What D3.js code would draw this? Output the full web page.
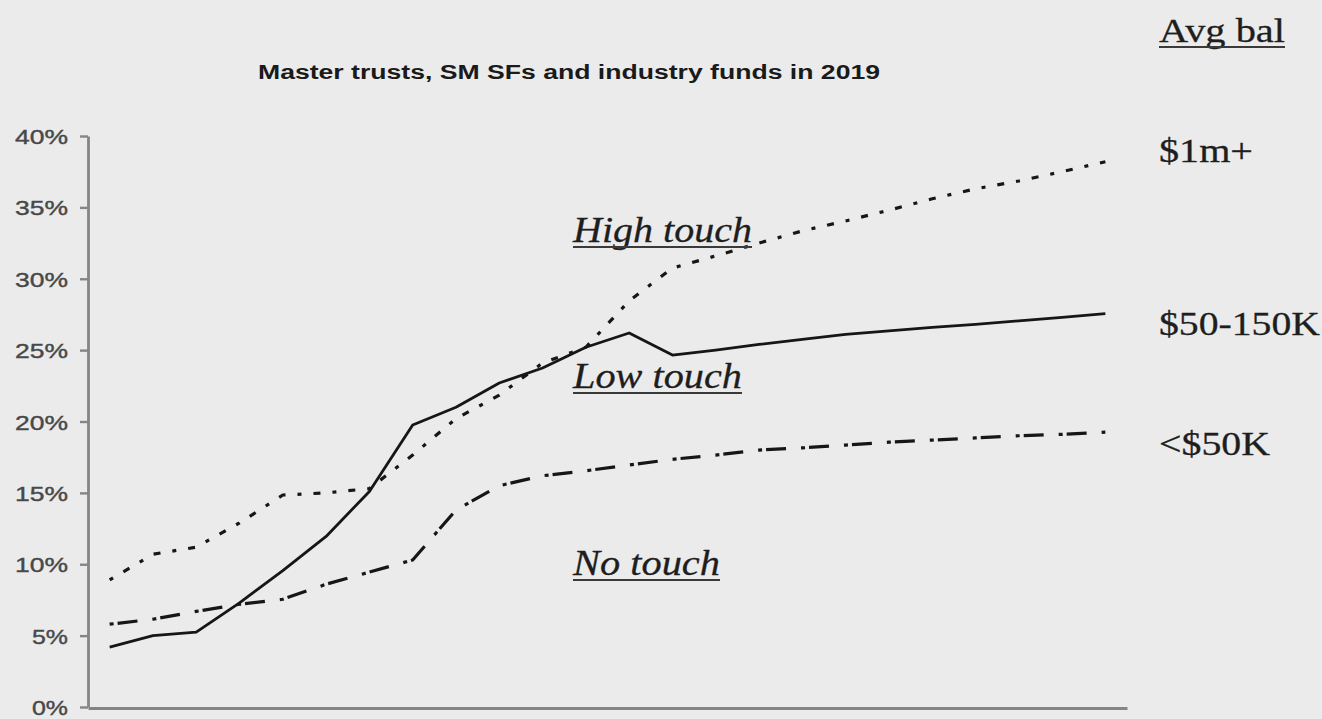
<!DOCTYPE html>
<html>
<head>
<meta charset="utf-8">
<script src="https://cdn.jsdelivr.net/npm/d3@7"></script>
<style>
html,body{margin:0;padding:0;background:#ebebeb;overflow:hidden}
svg{display:block}
</style>
</head>
<body>
<svg id="chart" width="1322" height="719"></svg>
<script>
// ---- data ----
const categories = ["1","2","3","4","5","6","7","8","9","10","11","12","13","14","15","16","17","18","19","20","21","22","23","24"];
const seriesNames = ["$1m+", "$50-150K", "<$50K"];
const highTouch = [8.9,10.7,11.2,12.9,14.85,15.0,15.3,17.65,20.2,21.85,24.1,25.2,28.45,30.75,31.6,32.5,33.35,34.05,34.8,35.6,36.3,36.85,37.5,38.2];
const lowTouch  = [4.2,5.0,5.25,7.3,9.55,11.95,15.1,19.75,21.0,22.7,23.75,25.2,26.2,24.65,25.0,25.4,25.75,26.1,26.35,26.6,26.8,27.05,27.3,27.55];
const noTouch   = [5.8,6.15,6.7,7.2,7.55,8.6,9.45,10.3,13.8,15.5,16.2,16.55,16.95,17.35,17.65,18.0,18.15,18.35,18.55,18.7,18.85,19.0,19.1,19.25];
const yTickValues = [0,5,10,15,20,25,30,35,40];
const yTickLabels = ["0%","5%","10%","15%","20%","25%","30%","35%","40%"];
const titleText = "Master trusts, SM SFs and industry funds in 2019";
const zoneLabels = ["High touch","Low touch","No touch"];
const legendTitle = "Avg bal";

// ---- layout ----
const svg = d3.select("#chart");
const x = d3.scalePoint().domain(categories).range([88,1127]).padding(0.5);
const y = d3.scaleLinear().domain([0,40]).range([707,136]);

svg.append("rect").attr("width",1322).attr("height",719).attr("fill","#ebebeb");

// y axis
const yAxis = svg.append("g").attr("transform","translate(88,0)")
  .call(d3.axisLeft(y).tickValues(yTickValues).tickFormat((d,i)=>yTickLabels[i])
        .tickSize(8).tickSizeOuter(0).tickPadding(12));
yAxis.select(".domain").attr("stroke","#858585").attr("stroke-width",2.8);
yAxis.selectAll(".tick line").attr("stroke","#858585").attr("stroke-width",2.4);
yAxis.selectAll(".tick text")
  .attr("fill","#484848").attr("font-family","'Liberation Sans', Arial, sans-serif")
  .attr("font-size",21).attr("dy","0.36em")
  .attr("stroke","#484848").attr("stroke-width",0.4)
  .attr("textLength",(d,i)=>yTickLabels[i].length===3?53:36)
  .attr("lengthAdjust","spacingAndGlyphs");

// x axis
const xAxis = svg.append("g").attr("transform","translate(0,708)")
  .call(d3.axisBottom(x).tickSize(0).tickSizeOuter(0).tickFormat(""));
xAxis.select(".domain").attr("stroke","#858585").attr("stroke-width",2.8);

// lines
const line = d3.line().x((d,i)=>x(categories[i])).y(d=>y(d));
const series = [
  {name:seriesNames[0], values:highTouch, dash:"4,12,7,12", w:3.2},
  {name:seriesNames[1], values:lowTouch,  dash:null, w:2.8},
  {name:seriesNames[2], values:noTouch,   dash:"4,4,20,15", w:3.2}
];
svg.append("g").selectAll("path").data(series).join("path")
  .attr("d",d=>line(d.values))
  .attr("fill","none").attr("stroke","#161616")
  .attr("stroke-width",d=>d.w)
  .attr("stroke-dasharray",d=>d.dash)
  .attr("stroke-linejoin","round");

// title
svg.append("text").attr("x",258).attr("y",79)
  .attr("font-family","'Liberation Sans', Arial, sans-serif").attr("font-weight","bold")
  .attr("font-size",20).attr("fill","#1a1a1a")
  .attr("textLength",622).attr("lengthAdjust","spacingAndGlyphs")
  .text(titleText);

// serif labels helper
function label(txt, x0, x1, base, size, italic, underline){
  svg.append("text").attr("x",x0).attr("y",base)
    .attr("font-family","'Liberation Serif', 'Times New Roman', serif")
    .attr("font-style",italic?"italic":"normal")
    .attr("font-size",size).attr("fill","#1e1e1e")
    .attr("stroke","#1e1e1e").attr("stroke-width",0.3)
    .attr("textLength",x1-x0).attr("lengthAdjust","spacingAndGlyphs")
    .text(txt);
  if(underline){
    svg.append("line").attr("x1",x0).attr("x2",x1).attr("y1",base+5).attr("y2",base+5)
      .attr("stroke","#3a3a3a").attr("stroke-width",2.2);
  }
}
label(legendTitle, 1159, 1285, 42, 34, false, true);
label(seriesNames[0], 1159, 1253, 162, 34, false, false);
label(seriesNames[1], 1159, 1320, 335, 34, false, false);
label(seriesNames[2], 1159, 1270, 455, 34, false, false);
label(zoneLabels[0], 573, 752, 242, 36, true, true);
label(zoneLabels[1], 573, 742, 388, 36, true, true);
label(zoneLabels[2], 573, 720, 575, 36, true, true);
</script>
</body>
</html>
